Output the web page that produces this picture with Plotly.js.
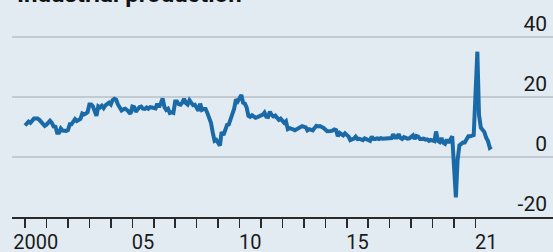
<!DOCTYPE html>
<html><head><meta charset="utf-8">
<script src="https://cdn.plot.ly/plotly-3.0.1.min.js"></script>
<style>html,body{margin:0;padding:0;background:#e2ebf2;overflow:hidden}#chart{width:553px;height:252px}</style>
</head><body><div id="chart"></div>
<script>
// China industrial production, % change on a year earlier, monthly from Jan 2000
const startYear = 2000;
const ipGrowth = [
  10.5, 11.0, 11.8, 11.4, 12.3, 12.8, 12.8, 12.8, 12.4, 11.6, 11.0, 10.4, // 2000
  10.8, 11.5, 12.1, 11.4, 10.2, 10.1, 8.1, 8.1, 9.5, 8.8, 8.6, 8.7,        // 2001
  9.0, 10.9, 10.9, 12.1, 12.6, 12.0, 12.4, 12.7, 14.5, 14.2, 14.5, 14.9,   // 2002
  17.5, 17.5, 16.9, 14.9, 13.7, 16.9, 16.5, 17.1, 16.3, 17.2, 17.9, 18.1, // 2003
  17.5, 19.0, 19.4, 19.1, 17.5, 16.2, 15.5, 15.9, 16.1, 15.7, 14.8, 14.4, // 2004
  16.8, 16.6, 15.1, 16.0, 16.6, 16.8, 16.1, 16.0, 16.5, 16.1, 16.6, 16.5, // 2005
  16.2, 16.2, 17.8, 16.6, 17.9, 19.5, 16.7, 15.7, 16.1, 14.7, 14.9, 14.7, // 2006
  18.5, 18.5, 17.6, 17.4, 18.1, 19.4, 18.0, 17.5, 18.9, 17.9, 17.3, 17.4, // 2007
  null, 15.4, 17.8, 15.7, 16.0, 16.0, 14.7, 12.8, 11.4, 8.2, 5.4, 5.7,    // 2008
  null, 3.8, 8.3, 7.3, 8.9, 10.7, 10.8, 12.3, 13.9, 16.1, 19.2, 18.5,     // 2009
  null, 20.7, 18.1, 17.8, 16.5, 13.7, 13.4, 13.9, 13.3, 13.1, 13.3, 13.5, // 2010
  null, 14.1, 14.8, 13.4, 13.3, 15.1, 14.0, 13.5, 13.8, 13.2, 12.4, 12.8, // 2011
  null, 11.4, 11.9, 9.3, 9.6, 9.5, 9.2, 8.9, 9.2, 9.6, 10.1, 10.3,        // 2012
  null, 9.9, 8.9, 9.3, 9.2, 8.9, 9.7, 10.4, 10.2, 10.3, 10.0, 9.7,        // 2013
  null, 8.6, 8.8, 8.7, 8.8, 9.2, 9.0, 6.9, 8.0, 7.7, 7.2, 7.9,            // 2014
  null, 6.8, 5.6, 5.9, 6.1, 6.8, 6.0, 6.1, 5.7, 5.6, 6.2, 5.9,            // 2015
  null, 5.4, 6.8, 6.0, 6.0, 6.2, 6.0, 6.3, 6.1, 6.1, 6.2, 6.0,            // 2016
  null, 6.3, 7.6, 6.5, 6.5, 7.6, 6.4, 6.0, 6.6, 6.2, 6.1, 6.2,            // 2017
  null, 7.2, 6.0, 7.0, 6.8, 6.0, 6.0, 6.1, 5.8, 5.9, 5.4, 5.7,            // 2018
  null, 5.3, 8.5, 5.4, 5.0, 6.3, 4.8, 4.4, 5.8, 4.7, 6.2, 6.9,            // 2019
  null, -13.5, -1.1, 3.9, 4.4, 4.8, 4.8, 5.6, 6.9, 6.9, 7.0, 7.3,         // 2020
  null, 35.1, 14.1, 9.8, 8.8, 8.3, 6.4, 5.3, 3.1, 3.5                     // 2021
];
const yTickVals = [-20, 0, 20, 40];
const yTickText = ['-20', '0', '20', '40'];
const xLabelYears = [2000, 2005, 2010, 2015, 2021];
const xLabelText = ['2000', '05', '10', '15', '21'];
const xTickYears = [2000, 2001, 2002, 2003, 2004, 2005, 2006, 2007, 2008, 2009, 2010,
                    2011, 2012, 2013, 2014, 2015, 2016, 2017, 2018, 2019, 2020, 2021];
const titleText = 'Industrial production';

const pad = n => (n < 10 ? '0' : '') + n;
const xDates = ipGrowth.map((_, i) => `${startYear + Math.floor(i / 12)}-${pad(i % 12 + 1)}-01`);
const labelPos = xLabelYears.map(y => `${y}-07-01`);
const yearTicks = xTickYears.map(y => `${y}-01-01`);

const trace = {
  x: xDates, y: ipGrowth, type: 'scatter', mode: 'lines', connectgaps: true,
  line: {color: '#1a6aa7', width: 4}, hoverinfo: 'skip'
};

const layout = {
  width: 553, height: 252,
  margin: {l: 12, r: 0, t: 34, b: 35, pad: 0},
  paper_bgcolor: '#e2ebf2', plot_bgcolor: '#e2ebf2',
  showlegend: false,
  font: {family: 'Roboto, sans-serif', color: '#1a1a1a'},
  xaxis: {
    type: 'date', range: ['1999-05-24', '2024-08-12'],
    tickmode: 'array', tickvals: labelPos, ticktext: xLabelText,
    ticks: '', showgrid: false, zeroline: false,
    showline: true, linecolor: '#2a2a2a', linewidth: 2,
    tickfont: {family: 'Roboto, sans-serif', size: 20, color: '#1a1a1a'},
    ticklabelstandoff: 6,
    minor: {tickmode: 'array', tickvals: yearTicks, ticks: 'outside', ticklen: 9,
            tickwidth: 1.5, tickcolor: '#2a2a2a', showgrid: false},
    fixedrange: true
  },
  yaxis: {
    range: [-20, 41], side: 'right',
    tickmode: 'array', tickvals: yTickVals, ticktext: yTickText,
    ticks: '', ticklabelposition: 'inside', ticklabelshift: -13, ticklabelstandoff: 3,
    ticklabeloverflow: 'allow',
    showgrid: true, gridcolor: '#c2cbd2', gridwidth: 1.5,
    zeroline: false,
    showline: false,
    tickfont: {family: 'Roboto, sans-serif', size: 21, color: '#1a1a1a'},
    fixedrange: true
  },
  shapes: [{
    type: 'line', xref: 'paper', x0: 0, x1: 1, yref: 'y', y0: 0, y1: 0,
    line: {color: '#e3726f', width: 2}, layer: 'below'
  }],
  annotations: [{
    text: '<b>' + titleText + '</b>', xref: 'paper', yref: 'paper',
    x: 0.005, y: 1.13, xanchor: 'left', yanchor: 'bottom', showarrow: false,
    font: {family: 'Roboto, sans-serif', size: 24, color: '#111'}
  }]
};

Plotly.newPlot('chart', [trace], layout, {staticPlot: true, displayModeBar: false});
</script>
</body></html>
